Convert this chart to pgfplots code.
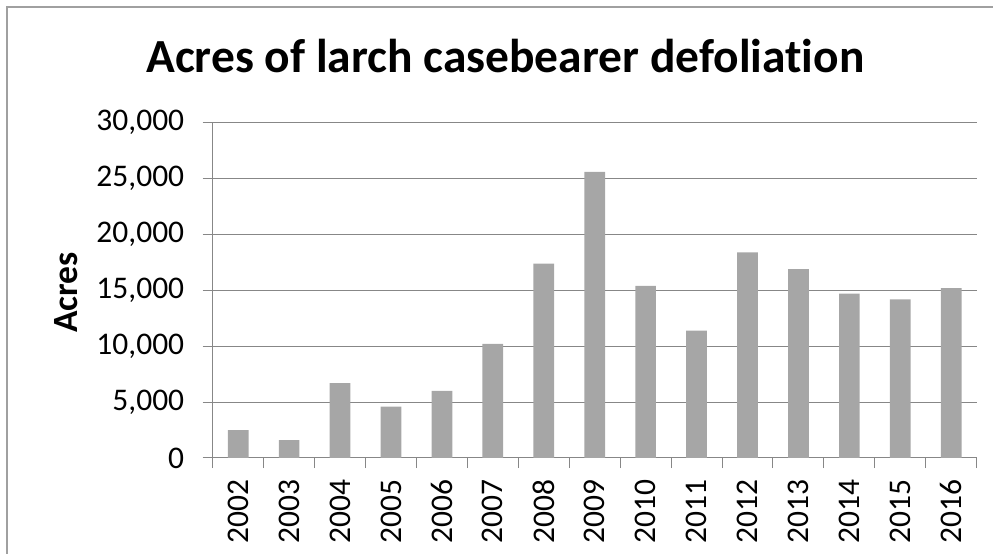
\documentclass[border=0pt]{standalone}
\usepackage{pgfplots}
\pgfplotsset{compat=1.18}
\usepackage{pgfplotstable}
\usepackage{fontspec}
\setmainfont[Ligatures=NoCommon]{Carlito}
\definecolor{barc}{HTML}{A6A6A6}
\definecolor{gridc}{HTML}{878787}
\definecolor{framec}{HTML}{A0A0A0}
\pgfplotstableread{
x y
0 2500
1 1600
2 6700
3 4600
4 6000
5 10200
6 17400
7 25600
8 15400
9 11400
10 18400
11 16900
12 14700
13 14200
14 15200
}\datatable
\begin{document}
\begin{tikzpicture}
\path[use as bounding box] (0,0) rectangle (993pt,554pt);
\draw[framec, line width=2pt] (7pt,-20pt) -- (7pt,547pt) -- (1020pt,547pt);
\begin{axis}[
  at={(212.7pt,96pt)}, anchor=south west,
  scale only axis, width=764pt, height=335.3pt,
  xmin=-0.5, xmax=14.5, ymin=0, ymax=30000,
  axis x line*=bottom, axis y line*=left,
  axis line style={gridc, line width=1pt},
  ymajorgrids, grid style={gridc, line width=1pt},
  ytick={0,5000,...,30000},
  xtick={0,...,14},
  xticklabels={2002,2003,2004,2005,2006,2007,2008,2009,2010,2011,2012,2013,2014,2015,2016},
  minor xtick={-0.5,0.5,...,14.5},
  tick align=outside,
  major tick length=10pt, minor tick length=10pt,
  x tick style={draw=none},
  minor x tick style={draw=gridc, line width=1pt},
  y tick style={draw=gridc, line width=1pt},
  scaled y ticks=false,
  /pgf/number format/.cd, 1000 sep={,}, assume math mode=true,
  /pgfplots/.cd,
  ticklabel style={font=\fontsize{31.5}{37}\selectfont},
  xticklabel style={rotate=90, anchor=east},
  xticklabel shift=8pt,
  yticklabel shift=15pt,
  ybar, bar width=20.7pt,
  clip=false,
]
\addplot[fill=barc, draw=none] table[x=x, y=y] {\datatable};
\end{axis}
\node[anchor=base, font=\fontsize{47.5}{56}\selectfont\bfseries] at (505.5pt,481pt) {Acres of larch casebearer defoliation};
\node[rotate=90, font=\fontsize{35.5}{42}\selectfont\bfseries] at (66pt,261.5pt) {Acres};
\end{tikzpicture}
\end{document}
